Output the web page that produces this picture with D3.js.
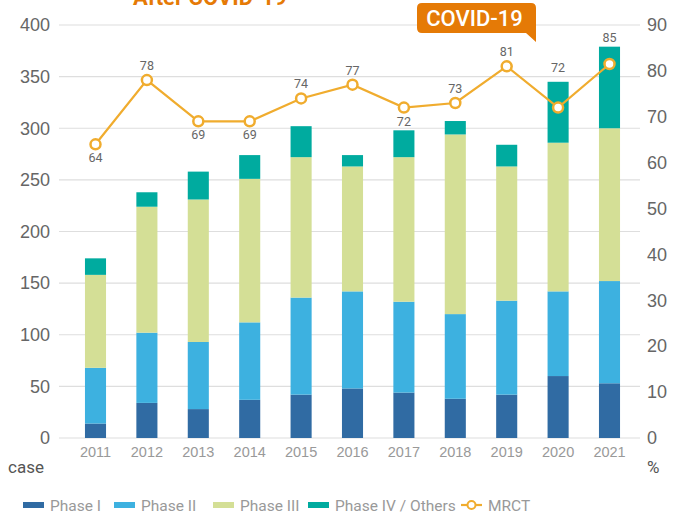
<!DOCTYPE html>
<html>
<head>
<meta charset="utf-8">
<script src="https://cdn.jsdelivr.net/npm/d3@7"></script>
<style>
  body { margin: 0; background: #fff; }
  svg { display: block; font-family: Roboto, "Noto Sans", sans-serif; }
</style>
</head>
<body>
<div id="chart"></div>
<script>
// data
const years = ["2011","2012","2013","2014","2015","2016","2017","2018","2019","2020","2021"];
const phase1 = [14, 34, 28, 37, 42, 48, 44, 38, 42, 60, 53];
const phase2 = [54, 68, 65, 75, 94, 94, 88, 82, 91, 82, 99];
const phase3 = [90, 122, 138, 139, 136, 121, 140, 174, 130, 144, 148];
const phase4 = [16, 14, 27, 23, 30, 11, 26, 13, 21, 59, 79];
const mrctRate = [64, 78, 69, 69, 74, 77, 72, 73, 81, 72, 81.5];
const mrctLabels = ["64","78","69","69","74","77","72","73","81","72","85"];
const leftTicks = [0, 50, 100, 150, 200, 250, 300, 350, 400];
const rightTicks = [0, 10, 20, 30, 40, 50, 60, 70, 80, 90];
const seriesNames = ["Phase I", "Phase II", "Phase III", "Phase IV / Others", "MRCT"];

const colors = ["#306ba3", "#3db1e0", "#d4df96", "#00ab9f"];
const lineColor = "#f0ac2e";
const orange = "#e57a06";
// where each rate label sits: under the point, over the point, or over the bar
const labelPlace = ["below","above","below","below","above","above","below","above","above","bar","bar"];

const W = 676, H = 513;
const svg = d3.select("#chart").append("svg")
    .attr("width", W).attr("height", H);

const x = d3.scaleBand()
    .domain(years)
    .range([69.8, 635.2])
    .paddingInner(0.59)
    .paddingOuter(0.295);

const y = d3.scaleLinear().domain([0, 400]).range([438, 25]);
const y2 = d3.scaleLinear().domain([0, 90]).range([438, 25]);

// gridlines
svg.append("g")
  .selectAll("line")
  .data(leftTicks)
  .join("line")
    .attr("x1", 59).attr("x2", 640)
    .attr("y1", d => y(d)).attr("y2", d => y(d))
    .attr("stroke", "#dedede")
    .attr("stroke-width", 1.2);

// left axis
const yAxisL = svg.append("g")
    .attr("transform", "translate(59,0)")
    .call(d3.axisLeft(y).tickValues(leftTicks).tickSize(0).tickPadding(9));
yAxisL.select(".domain").remove();
yAxisL.selectAll("text")
    .attr("font-size", 18).attr("fill", "#666").attr("font-family", null);

// right axis
const yAxisR = svg.append("g")
    .attr("transform", "translate(640,0)")
    .call(d3.axisRight(y2).tickValues(rightTicks).tickSize(0).tickPadding(7));
yAxisR.select(".domain").remove();
yAxisR.selectAll("text")
    .attr("font-size", 18).attr("fill", "#666").attr("font-family", null);

// x axis
const xAxis = svg.append("g")
    .attr("transform", "translate(0,438)")
    .call(d3.axisBottom(x).tickSize(0).tickPadding(9));
xAxis.select(".domain").remove();
xAxis.selectAll("text")
    .attr("font-size", 14.5).attr("fill", "#999").attr("font-family", null);

svg.append("text").attr("x", 8).attr("y", 473)
    .attr("font-size", 17).attr("fill", "#555").text("case");
svg.append("text").attr("x", 647).attr("y", 473)
    .attr("font-size", 17).attr("fill", "#555").text("%");

// stacked bars
const table = years.map((yr, i) => ({
  year: yr, p1: phase1[i], p2: phase2[i], p3: phase3[i], p4: phase4[i]
}));
const stack = d3.stack().keys(["p1", "p2", "p3", "p4"])(table);

svg.append("g")
  .selectAll("g")
  .data(stack)
  .join("g")
    .attr("fill", (d, i) => colors[i])
  .selectAll("rect")
  .data(d => d)
  .join("rect")
    .attr("x", d => x(d.data.year))
    .attr("width", x.bandwidth())
    .attr("y", d => y(d[1]))
    .attr("height", d => y(d[0]) - y(d[1]));

// MRCT line
const line = d3.line()
    .x((d, i) => x(years[i]) + x.bandwidth() / 2)
    .y(d => y2(d));

svg.append("path")
    .datum(mrctRate)
    .attr("d", line)
    .attr("fill", "none")
    .attr("stroke", lineColor)
    .attr("stroke-width", 2.2);

svg.append("g")
  .selectAll("circle")
  .data(mrctRate)
  .join("circle")
    .attr("cx", (d, i) => x(years[i]) + x.bandwidth() / 2)
    .attr("cy", d => y2(d))
    .attr("r", 5)
    .attr("fill", "#fff")
    .attr("stroke", lineColor)
    .attr("stroke-width", 2.5);

svg.append("g")
  .selectAll("text")
  .data(mrctLabels)
  .join("text")
    .attr("x", (d, i) => x(years[i]) + x.bandwidth() / 2)
    .attr("y", (d, i) => {
      const p = labelPlace[i];
      if (p === "below") return y2(mrctRate[i]) + 18;
      if (p === "bar") {
        const top = y(phase1[i] + phase2[i] + phase3[i] + phase4[i]);
        return top - (i === years.length - 1 ? 5 : 10);
      }
      return y2(mrctRate[i]) - 10;
    })
    .attr("text-anchor", "middle")
    .attr("font-size", 12.5)
    .attr("fill", "#666")
    .text(d => d);

// title, cut off by the top edge as in the source image
svg.append("text")
    .attr("x", 133).attr("y", 5)
    .attr("font-size", 22).attr("font-weight", "bold")
    .attr("fill", orange)
    .text("After COVID-19");

// COVID-19 callout
const cx0 = 417, cx1 = 536, cy0 = 3, cy1 = 33, r = 5;
svg.append("path")
    .attr("d", `M${cx0 + r},${cy0} H${cx1 - r} Q${cx1},${cy0} ${cx1},${cy0 + r} V${cy1 + 9} L${cx1 - 10},${cy1} H${cx0 + r} Q${cx0},${cy1} ${cx0},${cy1 - r} V${cy0 + r} Q${cx0},${cy0} ${cx0 + r},${cy0} Z`)
    .attr("fill", orange);
svg.append("text")
    .attr("x", (cx0 + cx1) / 2 - 2).attr("y", 26)
    .attr("text-anchor", "middle")
    .attr("font-size", 22).attr("font-weight", 500)
    .attr("fill", "#fff")
    .text("COVID-19");

// legend
const legendX = [23, 114, 213, 308, 461];
const leg = svg.append("g");
seriesNames.forEach((name, i) => {
  const g = leg.append("g").attr("transform", `translate(${legendX[i]},0)`);
  if (i < 4) {
    g.append("rect").attr("x", 0).attr("y", 502).attr("width", 21).attr("height", 6)
      .attr("fill", colors[i]);
  } else {
    g.append("line").attr("x1", 0).attr("x2", 21).attr("y1", 505).attr("y2", 505)
      .attr("stroke", lineColor).attr("stroke-width", 2.2);
    g.append("circle").attr("cx", 10.5).attr("cy", 505).attr("r", 4)
      .attr("fill", "#fff").attr("stroke", lineColor).attr("stroke-width", 2);
  }
  g.append("text").attr("x", 27).attr("y", 510.5)
    .attr("font-size", 15.5).attr("fill", "#999")
    .text(name);
});
</script>
</body>
</html>
